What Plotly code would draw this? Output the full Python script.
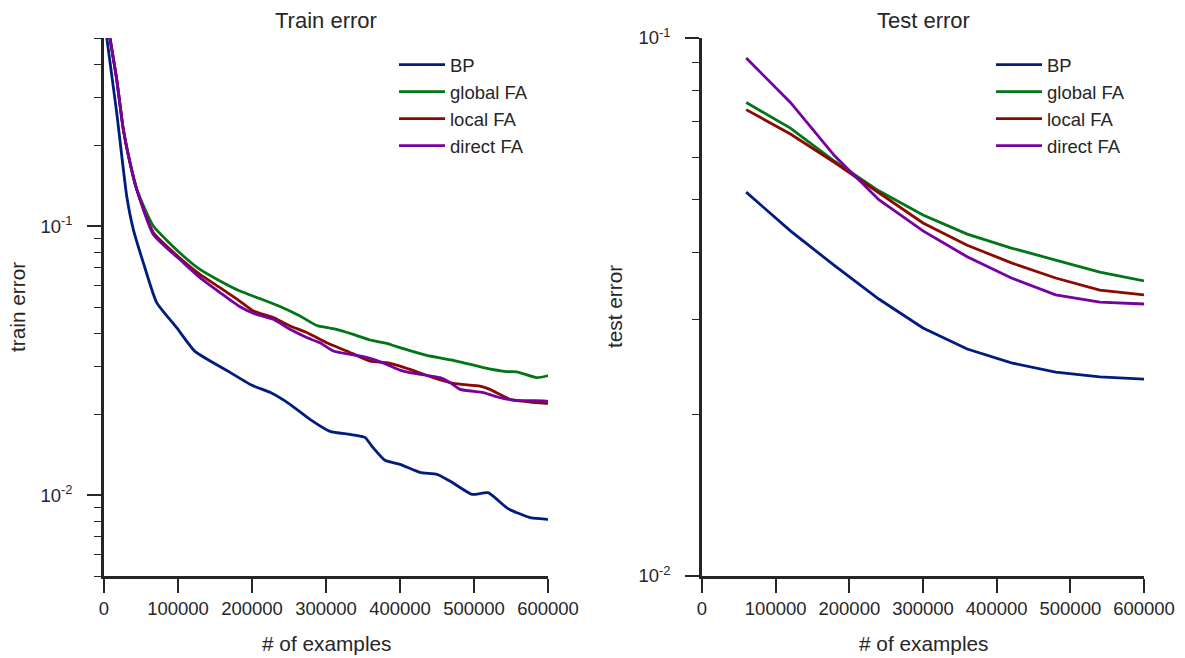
import plotly.graph_objects as go

# ---------------- data ----------------
series_names = ["BP", "global FA", "local FA", "direct FA"]
series_colors = ["#001C7F", "#017517", "#8C0900", "#7600A1"]

# training error (left panel), sampled along the run
bp_train_x = [3000, 17160, 30680, 39600, 53100, 71200, 98200, 123000, 170300, 200000,
              224300, 251400, 278400, 305400, 332400, 352700, 362200, 379700, 400000,
              427000, 450000, 467600, 497300, 519000, 546000, 575700, 598600, 600000]
bp_train_y = [0.52, 0.264, 0.1293, 0.0972, 0.0731, 0.0519, 0.0419, 0.0342, 0.02858, 0.02557,
              0.02409, 0.02174, 0.01911, 0.01724, 0.0168, 0.01638, 0.01517, 0.01346, 0.0130,
              0.01214, 0.01194, 0.01127, 0.01006, 0.0102, 0.0089, 0.00824, 0.00812, 0.00805]

gfa_train_x = [7000, 17160, 26080, 35140, 44190, 66620, 107160, 129700, 156760, 183800,
               210800, 237800, 264900, 287400, 309900, 336900, 359500, 382000, 400000,
               436100, 476600, 512600, 544200, 557700, 584700, 598200, 600000]
gfa_train_y = [0.52, 0.351, 0.2288, 0.172, 0.1369, 0.100, 0.0774, 0.0690, 0.0625, 0.0573,
               0.0537, 0.0502, 0.0463, 0.0427, 0.04155, 0.03957, 0.0377, 0.03664, 0.0353,
               0.03306, 0.03148, 0.02975, 0.02875, 0.0287, 0.02732, 0.0277, 0.0278]

lfa_train_x = [7000, 17160, 26080, 35140, 44190, 66620, 107160, 129700, 156760, 183800,
               201800, 228800, 251400, 273900, 301000, 328000, 359500, 382000, 400000,
               413500, 445000, 472000, 508100, 521600, 548600, 575700, 598200, 600000]
lfa_train_y = [0.52, 0.351, 0.2288, 0.172, 0.1369, 0.0945, 0.0741, 0.0661, 0.0590, 0.0525,
               0.0483, 0.0457, 0.0425, 0.0402, 0.0368, 0.0343, 0.03148, 0.03105, 0.03016,
               0.02932, 0.02732, 0.0260, 0.02541, 0.0247, 0.02268, 0.02216, 0.02192, 0.0219]

dfa_train_x = [7000, 17160, 26080, 35140, 44190, 66620, 107160, 129700, 156760, 183800,
               201800, 228800, 251400, 273900, 291900, 309900, 332400, 350400, 363900,
               382000, 400000, 413500, 454000, 467600, 481100, 512600, 535100, 553100,
               598200, 600000]
dfa_train_y = [0.52, 0.351, 0.2288, 0.172, 0.1369, 0.0931, 0.0731, 0.0643, 0.0566, 0.0501,
               0.0474, 0.0450, 0.0413, 0.0385, 0.0368, 0.0343, 0.03334, 0.0327, 0.03195,
               0.0306, 0.02914, 0.0285, 0.02732, 0.02618, 0.0247, 0.02402, 0.0230, 0.02254,
               0.02235, 0.0223]

# test error (right panel), evaluated once per epoch
test_x = [60000, 120000, 180000, 240000, 300000, 360000, 420000, 480000, 540000, 600000]
bp_test = [0.0517, 0.0438, 0.03774, 0.03272, 0.0289, 0.02642, 0.02489, 0.02394, 0.02344, 0.02323]
gfa_test = [0.0759, 0.0680, 0.0590, 0.0520, 0.0469, 0.0432, 0.0407, 0.0387, 0.0367, 0.03535]
lfa_test = [0.0736, 0.0663, 0.0587, 0.0515, 0.0453, 0.0412, 0.0382, 0.0358, 0.0340, 0.0333]
dfa_test = [0.0918, 0.0759, 0.0604, 0.05005, 0.0438, 0.0392, 0.0358, 0.0333, 0.0323, 0.03203]

x_ticks = [0, 100000, 200000, 300000, 400000, 500000, 600000]
x_tick_text = ["0", "100000", "200000", "300000", "400000", "500000", "600000"]
y_major = [0.01, 0.1]
y_major_text = ["10<sup>-2</sup>", "10<sup>-1</sup>"]
train_minor = [0.005, 0.006, 0.007, 0.008, 0.009,
               0.02, 0.03, 0.04, 0.05, 0.06, 0.07, 0.08, 0.09,
               0.2, 0.3, 0.4, 0.5]
test_minor = [0.02, 0.03, 0.04, 0.05, 0.06, 0.07, 0.08, 0.09]

# ---------------- figure ----------------
W, H = 1185, 658
INK = "#262626"
FONT = "Liberation Sans, Arial, sans-serif"

fig = go.Figure()

train_sets = [(bp_train_x, bp_train_y), (gfa_train_x, gfa_train_y),
              (lfa_train_x, lfa_train_y), (dfa_train_x, dfa_train_y)]
for name, color, (xs, ys) in zip(series_names, series_colors, train_sets):
    fig.add_trace(go.Scatter(
        x=xs, y=ys, name=name, mode="lines",
        line=dict(color=color, width=2.8, shape="spline", smoothing=0.5),
        xaxis="x", yaxis="y", legend="legend"))

test_sets = [bp_test, gfa_test, lfa_test, dfa_test]
for name, color, ys in zip(series_names, series_colors, test_sets):
    fig.add_trace(go.Scatter(
        x=test_x, y=ys, name=name, mode="lines",
        line=dict(color=color, width=2.8),
        xaxis="x2", yaxis="y2", legend="legend2"))


def px_x(p):
    return p / W


def px_y(p):
    return 1 - p / H


y_bottom, y_top = px_y(576), px_y(38)

common_x = dict(
    range=[0, 600000], tickmode="array", tickvals=x_ticks, ticktext=x_tick_text,
    showgrid=False, zeroline=False, showline=True, linecolor=INK, linewidth=2.5,
    ticks="outside", ticklen=14, tickwidth=2, tickcolor=INK, automargin=False,
    tickfont=dict(family=FONT, size=18.5, color=INK),
)


def y_axis(minor_vals):
    return dict(
        type="log", tickmode="array", tickvals=y_major, ticktext=y_major_text,
        showgrid=False, zeroline=False, showline=True, linecolor=INK, linewidth=2.5,
        ticks="outside", ticklen=14, tickwidth=2, tickcolor=INK, automargin=False,
        ticklabelstandoff=11,
        tickfont=dict(family=FONT, size=18.5, color=INK),
        minor=dict(tickmode="array", tickvals=minor_vals, ticks="outside",
                   ticklen=7.5, tickwidth=1.3, tickcolor=INK, showgrid=False),
        domain=[y_bottom, y_top],
    )


xa1 = dict(common_x, domain=[px_x(104), px_x(548)], anchor="y")
xa2 = dict(common_x, domain=[px_x(702), px_x(1144)], anchor="y2")
ya1 = dict(y_axis(train_minor), range=[-2.30103, -0.30103], anchor="x")
ya2 = dict(y_axis(test_minor), range=[-2, -1], anchor="x2")

legend_style = dict(
    font=dict(family=FONT, size=18.5, color=INK),
    bgcolor="rgba(0,0,0,0)", borderwidth=0, itemwidth=46,
    xanchor="left", yanchor="top", tracegroupgap=0,
)

annotations = []
for cx, title, ylab, ylab_x in [(326, "Train error", "train error", 17),
                                 (923, "Test error", "test error", 614)]:
    annotations.append(dict(text=title, x=px_x(cx), y=px_y(21), xref="paper", yref="paper",
                            showarrow=False, xanchor="center", yanchor="middle",
                            font=dict(family=FONT, size=22, color=INK)))
    annotations.append(dict(text="# of examples", x=px_x(cx), y=px_y(643),
                            xref="paper", yref="paper", showarrow=False,
                            xanchor="center", yanchor="middle",
                            font=dict(family=FONT, size=20.8, color=INK)))
    annotations.append(dict(text=ylab, x=px_x(ylab_x), y=px_y(307), xref="paper", yref="paper",
                            showarrow=False, xanchor="center", yanchor="middle", textangle=-90,
                            font=dict(family=FONT, size=20.8, color=INK)))

fig.update_layout(
    width=W, height=H,
    margin=dict(l=0, r=0, t=0, b=0, autoexpand=False),
    paper_bgcolor="white", plot_bgcolor="white",
    font=dict(family=FONT, color=INK),
    xaxis=xa1, yaxis=ya1, xaxis2=xa2, yaxis2=ya2,
    legend=dict(legend_style, x=px_x(394), y=px_y(46)),
    legend2=dict(legend_style, x=px_x(991), y=px_y(46)),
    annotations=annotations,
)

fig.write_html("out.html")
